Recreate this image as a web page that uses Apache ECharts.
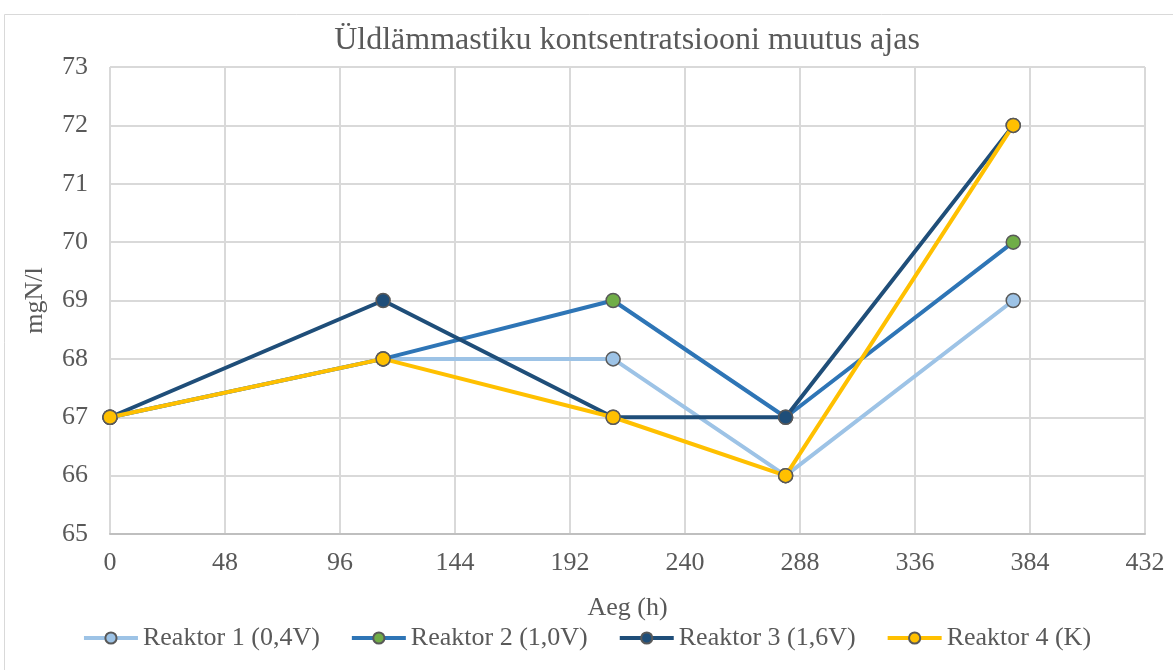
<!DOCTYPE html>
<html><head><meta charset="utf-8">
<script src="https://cdn.jsdelivr.net/npm/echarts@6/dist/echarts.min.js"></script>
<style>html,body{margin:0;padding:0;background:#fff}#c{width:1173px;height:670px}</style>
</head><body><div id="c"></div>
<script>
const hours = [0, 114, 210, 282, 377];
const seriesNames = ['Reaktor 1 (0,4V)', 'Reaktor 2 (1,0V)', 'Reaktor 3 (1,6V)', 'Reaktor 4 (K)'];
const reaktor1 = [67, 68, 68, 66, 69];
const reaktor2 = [67, 68, 69, 67, 70];
const reaktor3 = [67, 69, 67, 67, 72];
const reaktor4 = [67, 68, 67, 66, 72];
const xTicks = [0, 48, 96, 144, 192, 240, 288, 336, 384, 432];

const values = [reaktor1, reaktor2, reaktor3, reaktor4];
const lineColors = ['#9DC3E6', '#2E75B6', '#1F4E79', '#FFC000'];
const markerColors = ['#9DC3E6', '#70AD47', '#1F4E79', '#FFC000'];
const font = '"Liberation Serif", "Times New Roman", serif';
const txt = '#595959';

const chart = echarts.init(document.getElementById('c'));
chart.setOption({
  animation: false,
  textStyle: {fontFamily: font, color: txt},
  graphic: [{type: 'rect', shape: {x: 4.5, y: 14.5, width: 1180, height: 700},
    style: {fill: 'none', stroke: '#D9D9D9', lineWidth: 1}, silent: true}],
  title: {text: 'Üldlämmastiku kontsentratsiooni muutus ajas', left: 622, top: 20, textAlign: 'center',
    textStyle: {fontFamily: font, fontSize: 32, fontWeight: 'normal', color: txt}},
  grid: {left: 110, right: 28, top: 67, bottom: 136},
  legend: {bottom: 14, left: 'center', itemWidth: 54, itemHeight: 14, itemGap: 30,
    lineStyle: {width: 4},
    textStyle: {fontFamily: font, fontSize: 26, color: txt},
    data: seriesNames},
  xAxis: {type: 'value', min: 0, max: 432, interval: 48,
    name: 'Aeg (h)', nameLocation: 'middle', nameGap: 61,
    nameTextStyle: {fontFamily: font, fontSize: 26, color: txt},
    axisLine: {show: true, lineStyle: {color: '#BFBFBF', width: 2}},
    axisTick: {show: false},
    axisLabel: {fontFamily: font, fontSize: 26, color: txt, margin: 16,
      formatter: v => xTicks.includes(v) ? String(v) : ''},
    splitLine: {show: true, lineStyle: {color: '#D9D9D9', width: 2}}},
  yAxis: {type: 'value', min: 65, max: 73, interval: 1,
    name: 'mgN/l', nameLocation: 'middle', nameGap: 62, nameRotate: 90,
    nameTextStyle: {fontFamily: font, fontSize: 26, color: txt},
    axisLine: {show: false}, axisTick: {show: false},
    axisLabel: {fontFamily: font, fontSize: 26, color: txt, margin: 22},
    splitLine: {show: true, lineStyle: {color: '#D9D9D9', width: 2}}},
  series: seriesNames.map((n, i) => ({
    name: n, type: 'line',
    data: hours.map((h, j) => [h, values[i][j]]),
    symbol: 'circle', symbolSize: 14,
    lineStyle: {color: lineColors[i], width: 4},
    itemStyle: {color: markerColors[i], borderColor: '#595959', borderWidth: 1.5},
    z: 2 + i
  }))
});
</script></body></html>
